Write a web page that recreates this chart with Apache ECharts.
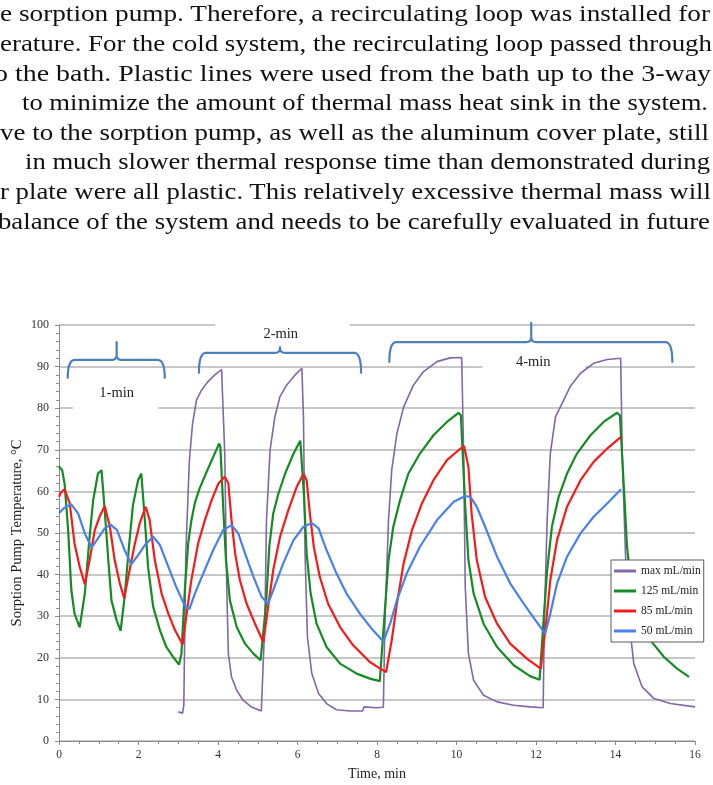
<!DOCTYPE html>
<html>
<head>
<meta charset="utf-8">
<script src="https://cdn.jsdelivr.net/npm/echarts@6/dist/echarts.min.js"></script>
<style>
  html, body { margin: 0; padding: 0; background: #fff; width: 713px; height: 785px; overflow: hidden; }
  #page { position: relative; width: 713px; height: 785px; overflow: hidden; background: #fff; }
  #chart { position: absolute; left: 0; top: 0; width: 713px; height: 785px; }
  #para { position: absolute; left: 0; top: 0; width: 713px; height: 240px; overflow: hidden;
          font-family: "Liberation Serif", "Times New Roman", serif; font-size: 24px; color: #111; }
  #para span { position: absolute; white-space: nowrap; line-height: 29.6px; transform-origin: 0 0; }
</style>
</head>
<body>
<div id="page">
  <div id="chart"></div>
  <div id="para">
    <span data-r="710" style="top:-0.6px;left:0px;">e sorption pump. Therefore, a recirculating loop was installed for</span>
    <span data-r="712" style="top:29.0px;left:0px;">erature. For the cold system, the recirculating loop passed through</span>
    <span data-r="711" style="top:58.6px;left:-6px;">o the bath. Plastic lines were used from the bath up to the 3-way</span>
    <span data-r="708" style="top:88.2px;left:22px;">to minimize the amount of thermal mass heat sink in the system.</span>
    <span data-r="709" style="top:117.8px;left:0px;">ve to the sorption pump, as well as the aluminum cover plate, still</span>
    <span data-r="710" style="top:147.4px;left:25px;">in much slower thermal response time than demonstrated during</span>
    <span data-r="711" style="top:177.0px;left:0px;">r plate were all plastic. This relatively excessive thermal mass will</span>
    <span data-r="710" style="top:206.6px;left:-2px;">balance of the system and needs to be carefully evaluated in future</span>
  </div>
</div>
<script>
// Stretch each text line so it runs from its left edge to its right margin
document.querySelectorAll('#para span').forEach(s => {
  const left = parseFloat(s.style.left);
  const right = parseFloat(s.getAttribute('data-r'));
  const w = s.getBoundingClientRect().width;
  s.style.transform = 'scaleX(' + ((right - left) / w) + ')';
});

// Sorption pump temperature [time (min), temperature (°C)] for each coolant flow rate
const seriesNames = ['max mL/min', '125 mL/min', '85 mL/min', '50 mL/min'];

const flowMax = [
  [3.00,7.0],[3.11,6.7],[3.14,8.6],[3.19,45.1],[3.28,67.5],[3.36,76.3],[3.46,82.0],[3.59,84.4],[3.75,86.4],[3.92,88.0],
  [4.09,89.3],[4.13,89.6],[4.17,69.1],[4.22,37.0],[4.26,21.0],[4.34,15.4],[4.47,12.2],[4.63,9.8],[4.84,8.2],[5.09,7.2],
  [5.14,7.0],[5.18,29.0],[5.22,53.1],[5.31,69.9],[5.43,77.9],[5.56,82.8],[5.73,85.6],[5.94,88.0],[6.11,89.6],[6.15,77.9],
  [6.19,45.1],[6.25,25.0],[6.36,16.2],[6.53,11.4],[6.73,9.0],[6.98,7.5],[7.32,7.2],[7.64,7.2],[7.67,8.2],[7.99,8.0],
  [8.16,8.1],[8.20,29.0],[8.29,53.1],[8.37,65.1],[8.50,73.9],[8.67,80.3],[8.92,85.6],[9.17,88.8],[9.51,91.2],[9.84,92.1],
  [10.13,92.2],[10.18,69.1],[10.22,37.0],[10.30,21.0],[10.43,14.6],[10.68,11.0],[11.02,9.4],[11.44,8.6],[11.85,8.2],[12.18,8.0],
  [12.21,29.0],[12.28,53.1],[12.36,69.1],[12.49,77.9],[12.66,81.2],[12.86,85.2],[13.12,88.4],[13.45,90.8],[13.79,91.7],[14.13,92.0],
  [14.17,69.1],[14.25,45.1],[14.34,29.0],[14.46,18.6],[14.67,13.0],[14.97,10.2],[15.38,9.0],[16.00,8.2]
];

const flow125 = [
  [0.00,66.0],[0.08,65.1],[0.14,61.9],[0.23,50.7],[0.31,36.3],[0.39,30.6],[0.52,27.3],[0.65,35.5],[0.77,49.1],[0.86,57.9],
  [0.98,64.3],[1.07,65.1],[1.15,55.5],[1.24,43.5],[1.32,33.8],[1.45,29.0],[1.55,26.5],[1.65,34.6],[1.76,46.7],[1.86,56.7],
  [1.99,62.7],[2.07,64.3],[2.16,53.1],[2.24,41.9],[2.37,32.2],[2.54,26.6],[2.70,22.6],[2.87,20.2],[3.02,18.4],[3.08,21.0],
  [3.17,37.0],[3.25,47.5],[3.33,53.0],[3.42,57.3],[3.54,60.8],[3.71,64.6],[3.88,68.3],[4.03,71.5],[4.06,70.7],[4.13,56.3],
  [4.20,43.5],[4.30,33.8],[4.47,27.4],[4.68,23.4],[4.89,21.0],[5.07,19.4],[5.12,19.3],[5.21,33.0],[5.29,46.7],[5.39,54.7],
  [5.52,59.5],[5.69,64.3],[5.90,69.1],[6.07,72.2],[6.11,72.0],[6.16,59.5],[6.23,45.1],[6.33,35.5],[6.48,28.2],[6.73,22.6],
  [7.07,18.6],[7.49,16.2],[7.82,15.0],[8.07,14.4],[8.18,29.0],[8.29,43.5],[8.41,51.5],[8.58,57.9],[8.79,64.3],[9.08,69.1],
  [9.42,73.5],[9.76,76.7],[10.05,78.9],[10.11,78.3],[10.22,56.3],[10.30,43.5],[10.43,35.5],[10.68,28.2],[11.02,22.6],[11.44,18.2],
  [11.85,15.6],[12.09,14.7],[12.19,29.0],[12.28,41.1],[12.40,51.5],[12.57,58.7],[12.78,64.3],[13.03,69.1],[13.37,73.5],[13.70,76.7],
  [14.04,78.9],[14.11,78.3],[14.21,61.1],[14.29,46.7],[14.38,38.7],[14.55,31.4],[14.88,24.2],[15.22,20.2],[15.55,17.4],[15.85,15.4]
];

const flow85 = [
  [0.00,58.7],[0.05,59.8],[0.14,60.5],[0.27,57.1],[0.39,47.5],[0.52,41.9],[0.65,37.7],[0.77,43.5],[0.90,50.7],[1.02,53.9],
  [1.15,56.5],[1.28,51.5],[1.40,43.5],[1.53,37.9],[1.64,34.3],[1.76,40.3],[1.91,47.5],[2.03,52.3],[2.18,56.3],[2.28,53.1],
  [2.41,43.5],[2.58,35.5],[2.75,30.6],[2.92,26.6],[3.11,23.2],[3.21,30.6],[3.33,38.7],[3.50,47.5],[3.67,53.1],[3.84,57.9],
  [4.01,61.9],[4.17,63.5],[4.26,61.9],[4.34,53.1],[4.43,45.1],[4.55,38.7],[4.72,33.0],[4.93,28.2],[5.14,23.8],[5.26,32.2],
  [5.39,41.1],[5.56,49.1],[5.77,55.5],[5.98,61.1],[6.15,64.2],[6.23,62.7],[6.31,54.7],[6.41,46.7],[6.56,39.5],[6.77,33.0],
  [7.07,27.4],[7.40,23.0],[7.82,19.0],[8.08,17.4],[8.23,16.6],[8.37,24.2],[8.50,33.0],[8.67,42.7],[8.88,50.7],[9.13,57.1],
  [9.42,62.7],[9.76,67.5],[10.05,69.9],[10.19,70.9],[10.30,65.9],[10.38,54.7],[10.51,43.5],[10.72,34.6],[11.02,28.2],[11.35,23.4],
  [11.77,19.8],[12.12,17.4],[12.26,29.0],[12.36,38.7],[12.53,48.3],[12.78,56.3],[13.12,62.7],[13.45,67.1],[13.79,70.3],[14.14,73.1]
];

const flow50 = [
  [0.00,54.8],[0.14,56.1],[0.31,56.9],[0.48,54.7],[0.65,49.9],[0.82,46.5],[0.98,48.7],[1.15,51.1],[1.30,52.0],[1.46,50.7],
  [1.65,45.9],[1.82,42.5],[1.99,44.7],[2.16,47.1],[2.37,49.1],[2.54,47.1],[2.75,41.9],[2.95,37.0],[3.16,32.6],[3.28,31.7],
  [3.42,35.5],[3.63,40.3],[3.88,45.9],[4.13,50.7],[4.34,51.9],[4.51,49.9],[4.68,45.1],[4.89,39.5],[5.10,34.6],[5.26,33.0],
  [5.39,36.3],[5.64,42.7],[5.90,48.3],[6.15,51.5],[6.36,52.4],[6.53,51.1],[6.73,45.9],[6.98,40.3],[7.23,35.5],[7.57,30.6],
  [7.90,26.6],[8.16,23.9],[8.33,28.2],[8.50,33.8],[8.75,40.3],[9.08,46.7],[9.51,53.1],[9.93,57.5],[10.22,58.9],[10.35,58.7],
  [10.51,56.3],[10.72,51.5],[11.02,44.3],[11.35,37.9],[11.69,33.0],[12.02,28.6],[12.23,25.8],[12.36,30.6],[12.53,37.9],[12.78,44.3],
  [13.12,49.9],[13.45,53.9],[13.79,57.1],[14.14,60.5]
];

// Cycle-period annotations: brace span (min), brace height (°C) and label
const cycleLabels = ['1-min', '2-min', '4-min'];
const braceSpans = [[0.22, 2.66, 1.45], [3.52, 7.60, 5.56], [8.31, 15.43, 11.88]];   // left, right, tip
const braceLevels = [[91.6, 87.3, 95.9], [93.3, 88.5, 94.7], [95.9, 91.1, 100.5]];   // bar, ends, tip
const labelPoints = [[1.45, 83.6], [5.58, 97.8], [11.93, 91.1]];

const serif = '"Liberation Serif", "Times New Roman", serif';
const colors = ['#8267a6', '#168a25', '#f21c1c', '#4a80e8'];
const widths = [1.6, 2.2, 2.2, 2.2];
const dataSets = [flowMax, flow125, flow85, flow50];
const axisGray = '#8c8c8c';

const chart = echarts.init(document.getElementById('chart'), null, { width: 713, height: 785 });

chart.setOption({
  animation: false,
  backgroundColor: 'transparent',
  grid: { left: 59, right: 18, top: 325, bottom: 44, containLabel: false, outerBoundsMode: 'none' },
  xAxis: {
    type: 'value', min: 0, max: 16, interval: 2,
    name: 'Time, min', nameLocation: 'middle', nameGap: 26, nameMoveOverlap: false,
    nameTextStyle: { fontFamily: serif, fontSize: 14, color: '#222' },
    axisLine: { lineStyle: { color: axisGray, width: 1 } },
    axisTick: { length: 4, lineStyle: { color: axisGray } },
    minorTick: { show: true, splitNumber: 4, length: 3, lineStyle: { color: axisGray } },
    axisLabel: { fontFamily: serif, fontSize: 11.5, color: '#333', margin: 8 },
    splitLine: { show: false }
  },
  yAxis: {
    type: 'value', min: 0, max: 100, interval: 10,
    name: 'Sorption Pump Temperature, °C', nameLocation: 'middle', nameGap: 34, nameMoveOverlap: false,
    nameTextStyle: { fontFamily: serif, fontSize: 14.5, color: '#222' },
    axisLine: { show: true, lineStyle: { color: axisGray, width: 1 } },
    axisTick: { show: true, length: 4, lineStyle: { color: axisGray } },
    minorTick: { show: true, splitNumber: 5, length: 3, lineStyle: { color: axisGray } },
    axisLabel: { fontFamily: serif, fontSize: 12, color: '#333', margin: 10 },
    splitLine: { show: true, lineStyle: { color: '#b4b4b4', width: 1.7 } }
  },
  legend: {
    orient: 'vertical', left: 611, top: 560,
    data: seriesNames,
    icon: 'rect', itemWidth: 22, itemHeight: 3, itemGap: 6,
    padding: [4, 3, 4, 3],
    backgroundColor: '#fff', borderColor: '#5a5a5a', borderWidth: 1, borderRadius: 0,
    textStyle: { fontFamily: serif, fontSize: 11.5, color: '#222', lineHeight: 14 },
    selectedMode: false
  },
  series: dataSets.map((d, i) => ({
    name: seriesNames[i],
    type: 'line',
    data: d,
    showSymbol: false,
    symbol: 'none',
    smooth: false,
    lineStyle: { color: colors[i], width: widths[i] },
    itemStyle: { color: colors[i] },
    z: 2
  }))
});

// Curly brace built from quadratic curves, sampled into a polyline
function quad(p0, c, p1, n, out) {
  for (let k = 1; k <= n; k++) {
    const t = k / n, a = (1 - t) * (1 - t), b = 2 * (1 - t) * t, e = t * t;
    out.push([a * p0[0] + b * c[0] + e * p1[0], a * p0[1] + b * c[1] + e * p1[1]]);
  }
}
function bracePoints(xl, xr, xt, yb, ye, yt) {
  const r = 7, rt = 5;
  const pts = [[xl, ye]];
  quad([xl, ye], [xl, yb], [xl + r, yb], 8, pts);
  pts.push([xt - rt, yb]);
  quad([xt - rt, yb], [xt, yb], [xt, yb - rt], 6, pts);
  pts.push([xt, yt]);
  pts.push([xt, yb - rt]);
  quad([xt, yb - rt], [xt, yb], [xt + rt, yb], 6, pts);
  pts.push([xr - r, yb]);
  quad([xr - r, yb], [xr, yb], [xr, ye], 8, pts);
  return pts;
}

const px = (t, v) => chart.convertToPixel({ gridIndex: 0 }, [t, v]);
const elements = [];

// white boxes behind the labels interrupt the grid lines
const maskBoxes = [[0.35, 2.50, 79.0, 85.0], [3.93, 7.32, 94.8, 102], [10.65, 13.24, 86.5, 92.2]];
maskBoxes.forEach(m => {
  const a = px(m[0], m[3]), b = px(m[1], m[2]);
  elements.push({ type: 'rect', z: 1, silent: true,
    shape: { x: a[0], y: a[1], width: b[0] - a[0], height: b[1] - a[1] },
    style: { fill: '#ffffff' } });
});

braceSpans.forEach((s, i) => {
  const lv = braceLevels[i];
  const l = px(s[0], lv[0]), r = px(s[1], lv[0]), tp = px(s[2], lv[2]), e = px(s[0], lv[1]);
  elements.push({ type: 'polyline', z: 10, silent: true,
    shape: { points: bracePoints(l[0], r[0], tp[0], l[1], e[1], tp[1]) },
    style: { stroke: '#4f7fb8', lineWidth: 2.2, fill: null, lineJoin: 'round', lineCap: 'round' } });
  const lp = px(labelPoints[i][0], labelPoints[i][1]);
  elements.push({ type: 'text', z: 10, silent: true, x: lp[0], y: lp[1],
    style: { text: cycleLabels[i], font: '14.5px ' + serif, fill: '#222',
             align: 'center', verticalAlign: 'middle', textAlign: 'center', textVerticalAlign: 'middle' } });
});

chart.setOption({ graphic: { elements: elements } });
</script>
</body>
</html>
